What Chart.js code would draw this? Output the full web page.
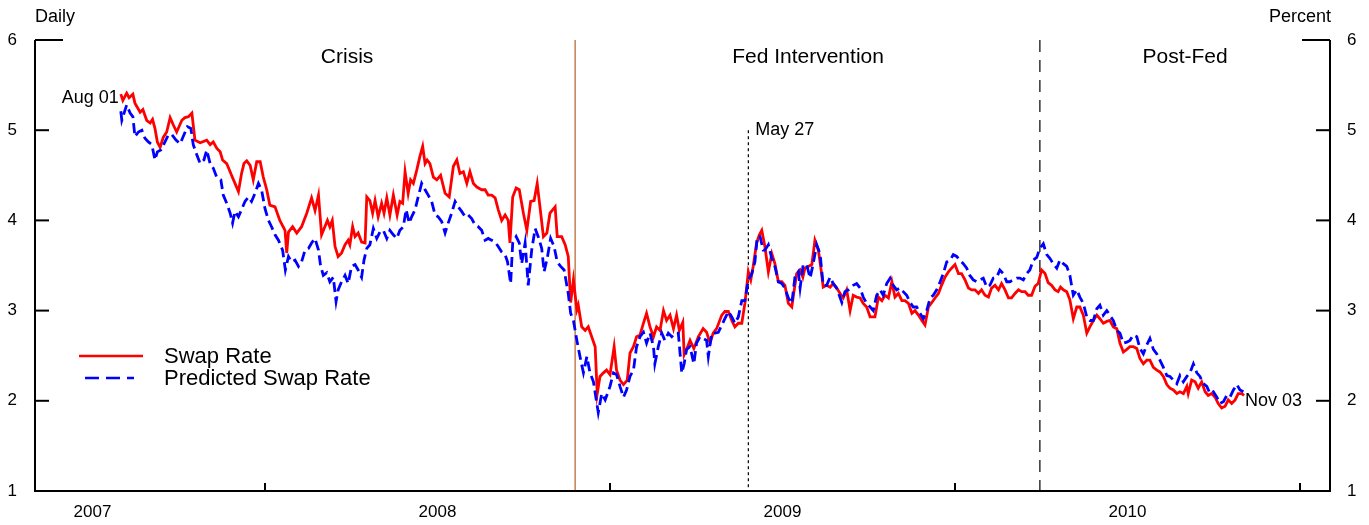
<!DOCTYPE html>
<html>
<head>
<meta charset="utf-8">
<script src="https://cdn.jsdelivr.net/npm/chart.js@4.4.0/dist/chart.umd.min.js"></script>
<style>
  html, body { margin: 0; padding: 0; background: #fff; }
</style>
</head>
<body>
<canvas id="swapChart" width="1369" height="525"></canvas>
<script>
/*
    Swap rate vs predicted swap rate, daily, 2007-2010
    x values are decimal years
*/
var years = [2007, 2008, 2009, 2010];
var yearBreaks = [2008, 2009, 2010, 2011];
var rateTicks = [1, 2, 3, 4, 5, 6];

var fedStart = 2008.899;   // Nov 25 2008
var may27 = 2009.401;      // May 27 2009
var fedEnd = 2010.246;     // Mar 31 2010

var periods = ["Crisis", "Fed Intervention", "Post-Fed"];
var periodCenters = [2008.238, 2009.574, 2010.667];

var swapRate = [[2007.582,5.40],[2007.588,5.33],[2007.599,5.41],[2007.606,5.36],[2007.617,5.40],[2007.623,5.30],[2007.638,5.20],[2007.646,5.23],[2007.657,5.11],[2007.667,5.08],[2007.674,5.12],[2007.681,5.02],[2007.688,4.87],[2007.696,4.81],[2007.705,4.92],[2007.715,4.98],[2007.725,5.14],[2007.734,5.06],[2007.744,4.98],[2007.759,5.11],[2007.768,5.14],[2007.778,5.15],[2007.788,5.19],[2007.797,4.89],[2007.812,4.86],[2007.831,4.89],[2007.841,4.84],[2007.850,4.87],[2007.860,4.80],[2007.870,4.76],[2007.877,4.67],[2007.889,4.63],[2007.903,4.50],[2007.913,4.41],[2007.923,4.32],[2007.932,4.52],[2007.939,4.63],[2007.947,4.66],[2007.957,4.61],[2007.966,4.45],[2007.976,4.65],[2007.986,4.65],[2007.995,4.48],[2008.005,4.34],[2008.014,4.17],[2008.029,4.15],[2008.043,4.00],[2008.058,3.89],[2008.063,3.64],[2008.068,3.87],[2008.080,3.93],[2008.092,3.86],[2008.106,3.93],[2008.121,4.08],[2008.135,4.25],[2008.145,4.11],[2008.155,4.28],[2008.164,3.84],[2008.181,4.00],[2008.188,3.93],[2008.195,4.00],[2008.203,3.71],[2008.212,3.60],[2008.222,3.64],[2008.232,3.73],[2008.241,3.78],[2008.246,3.73],[2008.254,3.93],[2008.261,3.82],[2008.270,3.86],[2008.280,3.76],[2008.290,3.75],[2008.295,4.26],[2008.304,4.22],[2008.312,4.08],[2008.319,4.22],[2008.328,4.04],[2008.338,4.19],[2008.345,4.08],[2008.353,4.25],[2008.362,4.06],[2008.372,4.28],[2008.383,4.06],[2008.391,4.21],[2008.399,4.19],[2008.406,4.54],[2008.415,4.30],[2008.422,4.45],[2008.430,4.41],[2008.440,4.56],[2008.449,4.71],[2008.457,4.82],[2008.464,4.63],[2008.470,4.67],[2008.478,4.63],[2008.488,4.48],[2008.498,4.45],[2008.509,4.50],[2008.522,4.30],[2008.534,4.26],[2008.546,4.60],[2008.556,4.67],[2008.565,4.52],[2008.575,4.54],[2008.585,4.41],[2008.594,4.54],[2008.604,4.41],[2008.614,4.37],[2008.628,4.34],[2008.638,4.34],[2008.647,4.28],[2008.657,4.28],[2008.667,4.25],[2008.676,4.12],[2008.686,4.00],[2008.696,4.06],[2008.705,4.00],[2008.710,3.75],[2008.718,4.26],[2008.728,4.36],[2008.737,4.34],[2008.749,4.08],[2008.759,3.89],[2008.770,4.21],[2008.780,4.22],[2008.789,4.41],[2008.797,4.15],[2008.807,3.82],[2008.817,3.86],[2008.826,4.08],[2008.841,4.15],[2008.847,3.82],[2008.860,3.82],[2008.870,3.73],[2008.879,3.60],[2008.886,3.09],[2008.894,3.34],[2008.904,3.01],[2008.908,3.06],[2008.918,2.82],[2008.928,2.78],[2008.937,2.82],[2008.947,2.71],[2008.957,2.60],[2008.963,2.08],[2008.971,2.27],[2008.981,2.31],[2008.990,2.34],[2009.000,2.29],[2009.012,2.60],[2009.019,2.34],[2009.029,2.23],[2009.039,2.18],[2009.050,2.23],[2009.058,2.53],[2009.068,2.60],[2009.077,2.71],[2009.087,2.73],[2009.097,2.86],[2009.106,2.97],[2009.116,2.82],[2009.126,2.71],[2009.135,2.82],[2009.145,2.78],[2009.155,3.00],[2009.164,2.89],[2009.174,2.95],[2009.184,2.80],[2009.193,2.95],[2009.201,2.78],[2009.211,2.87],[2009.215,2.51],[2009.222,2.57],[2009.232,2.67],[2009.243,2.58],[2009.256,2.71],[2009.270,2.80],[2009.280,2.76],[2009.290,2.64],[2009.299,2.75],[2009.309,2.80],[2009.324,2.95],[2009.333,2.99],[2009.343,2.99],[2009.353,2.89],[2009.362,2.82],[2009.372,2.86],[2009.382,2.86],[2009.391,3.08],[2009.401,3.43],[2009.408,3.34],[2009.415,3.49],[2009.425,3.75],[2009.433,3.84],[2009.440,3.89],[2009.449,3.71],[2009.459,3.43],[2009.469,3.63],[2009.478,3.52],[2009.488,3.32],[2009.498,3.32],[2009.507,3.28],[2009.517,3.08],[2009.527,3.04],[2009.531,3.15],[2009.541,3.41],[2009.551,3.45],[2009.559,3.37],[2009.565,3.47],[2009.575,3.49],[2009.585,3.51],[2009.594,3.78],[2009.604,3.67],[2009.612,3.45],[2009.618,3.26],[2009.628,3.28],[2009.638,3.26],[2009.647,3.30],[2009.657,3.25],[2009.667,3.19],[2009.676,3.14],[2009.686,3.23],[2009.696,3.00],[2009.705,3.17],[2009.715,3.15],[2009.725,3.14],[2009.734,3.08],[2009.744,3.04],[2009.754,2.93],[2009.768,2.93],[2009.778,3.15],[2009.788,3.11],[2009.797,3.17],[2009.807,3.14],[2009.817,3.32],[2009.826,3.15],[2009.836,3.19],[2009.846,3.11],[2009.855,3.11],[2009.865,3.08],[2009.875,2.97],[2009.884,3.00],[2009.894,2.95],[2009.904,2.89],[2009.913,2.84],[2009.923,3.04],[2009.933,3.09],[2009.942,3.14],[2009.952,3.19],[2009.961,3.28],[2009.971,3.37],[2009.981,3.43],[2009.990,3.47],[2010.000,3.51],[2010.010,3.41],[2010.019,3.41],[2010.029,3.34],[2010.039,3.25],[2010.048,3.23],[2010.058,3.23],[2010.068,3.19],[2010.077,3.23],[2010.087,3.17],[2010.097,3.15],[2010.106,3.25],[2010.116,3.28],[2010.126,3.23],[2010.135,3.30],[2010.145,3.23],[2010.155,3.14],[2010.164,3.14],[2010.174,3.19],[2010.184,3.23],[2010.193,3.21],[2010.203,3.21],[2010.212,3.17],[2010.222,3.17],[2010.232,3.27],[2010.241,3.30],[2010.251,3.45],[2010.261,3.41],[2010.270,3.31],[2010.280,3.28],[2010.290,3.23],[2010.299,3.21],[2010.306,3.26],[2010.314,3.23],[2010.324,3.21],[2010.333,3.12],[2010.343,2.91],[2010.353,3.04],[2010.362,3.04],[2010.372,2.95],[2010.382,2.75],[2010.391,2.82],[2010.401,2.89],[2010.411,2.95],[2010.420,2.91],[2010.430,2.86],[2010.440,2.88],[2010.449,2.89],[2010.459,2.82],[2010.469,2.80],[2010.478,2.64],[2010.488,2.54],[2010.498,2.57],[2010.507,2.60],[2010.517,2.60],[2010.527,2.58],[2010.536,2.47],[2010.546,2.41],[2010.556,2.45],[2010.565,2.45],[2010.575,2.37],[2010.585,2.34],[2010.594,2.32],[2010.604,2.27],[2010.614,2.18],[2010.623,2.14],[2010.633,2.12],[2010.643,2.08],[2010.652,2.10],[2010.662,2.08],[2010.672,2.16],[2010.676,2.08],[2010.686,2.23],[2010.696,2.21],[2010.705,2.14],[2010.715,2.21],[2010.725,2.10],[2010.734,2.06],[2010.744,2.08],[2010.754,2.04],[2010.763,1.97],[2010.773,1.92],[2010.783,1.94],[2010.792,2.01],[2010.802,1.97],[2010.812,2.01],[2010.821,2.08],[2010.831,2.08],[2010.838,2.06]];

var predictedRate = [[2007.582,5.21],[2007.585,5.11],[2007.599,5.28],[2007.609,5.19],[2007.617,5.15],[2007.623,4.93],[2007.633,4.98],[2007.643,5.00],[2007.652,4.91],[2007.662,4.87],[2007.672,4.84],[2007.681,4.67],[2007.688,4.76],[2007.698,4.78],[2007.710,4.87],[2007.720,4.95],[2007.730,4.95],[2007.742,4.89],[2007.754,4.85],[2007.763,4.93],[2007.775,5.04],[2007.785,5.02],[2007.792,4.84],[2007.802,4.73],[2007.812,4.63],[2007.823,4.67],[2007.831,4.78],[2007.841,4.63],[2007.850,4.58],[2007.860,4.48],[2007.872,4.45],[2007.879,4.28],[2007.889,4.19],[2007.899,4.08],[2007.906,3.97],[2007.913,4.10],[2007.923,4.04],[2007.932,4.12],[2007.942,4.21],[2007.952,4.26],[2007.961,4.21],[2007.971,4.30],[2007.981,4.41],[2007.990,4.34],[2008.000,4.13],[2008.010,4.00],[2008.019,3.93],[2008.029,3.84],[2008.039,3.78],[2008.051,3.67],[2008.059,3.45],[2008.068,3.60],[2008.077,3.54],[2008.087,3.56],[2008.097,3.49],[2008.106,3.54],[2008.116,3.67],[2008.126,3.69],[2008.135,3.75],[2008.145,3.80],[2008.155,3.67],[2008.161,3.50],[2008.169,3.39],[2008.179,3.42],[2008.188,3.32],[2008.198,3.37],[2008.206,3.10],[2008.212,3.23],[2008.222,3.32],[2008.232,3.39],[2008.241,3.30],[2008.251,3.49],[2008.261,3.51],[2008.270,3.45],[2008.280,3.37],[2008.287,3.56],[2008.295,3.69],[2008.304,3.73],[2008.314,3.91],[2008.324,3.80],[2008.333,3.87],[2008.343,3.89],[2008.353,3.80],[2008.362,3.89],[2008.372,3.84],[2008.382,3.80],[2008.391,3.89],[2008.401,3.93],[2008.409,4.12],[2008.418,3.97],[2008.425,4.04],[2008.435,4.12],[2008.444,4.26],[2008.454,4.41],[2008.464,4.34],[2008.473,4.28],[2008.483,4.21],[2008.493,4.06],[2008.502,4.04],[2008.512,3.99],[2008.522,3.86],[2008.531,3.97],[2008.541,4.08],[2008.551,4.21],[2008.560,4.15],[2008.570,4.10],[2008.580,4.04],[2008.589,4.06],[2008.599,4.02],[2008.609,3.95],[2008.618,3.93],[2008.628,3.89],[2008.638,3.78],[2008.647,3.80],[2008.657,3.78],[2008.667,3.76],[2008.676,3.71],[2008.686,3.65],[2008.696,3.62],[2008.703,3.54],[2008.712,3.30],[2008.718,3.75],[2008.728,3.82],[2008.737,3.75],[2008.744,3.52],[2008.754,3.75],[2008.763,3.28],[2008.773,3.67],[2008.783,3.91],[2008.792,3.82],[2008.802,3.69],[2008.809,3.43],[2008.818,3.58],[2008.828,3.80],[2008.838,3.71],[2008.847,3.54],[2008.857,3.49],[2008.867,3.45],[2008.879,3.19],[2008.886,2.97],[2008.894,2.89],[2008.904,2.67],[2008.913,2.49],[2008.923,2.31],[2008.933,2.49],[2008.942,2.31],[2008.952,2.21],[2008.959,2.04],[2008.966,1.87],[2008.976,2.08],[2008.986,2.01],[2009.000,2.16],[2009.010,2.31],[2009.019,2.29],[2009.029,2.16],[2009.039,2.04],[2009.048,2.12],[2009.058,2.27],[2009.068,2.34],[2009.077,2.60],[2009.087,2.71],[2009.097,2.76],[2009.106,2.64],[2009.116,2.75],[2009.126,2.60],[2009.130,2.41],[2009.140,2.60],[2009.150,2.75],[2009.159,2.67],[2009.169,2.75],[2009.179,2.71],[2009.188,2.75],[2009.198,2.75],[2009.208,2.31],[2009.215,2.41],[2009.222,2.57],[2009.232,2.60],[2009.243,2.41],[2009.251,2.64],[2009.261,2.71],[2009.270,2.69],[2009.280,2.67],[2009.285,2.49],[2009.295,2.75],[2009.304,2.75],[2009.314,2.76],[2009.324,2.84],[2009.333,2.91],[2009.343,2.99],[2009.353,2.93],[2009.362,2.86],[2009.372,2.93],[2009.382,3.11],[2009.391,3.11],[2009.401,3.34],[2009.411,3.41],[2009.420,3.54],[2009.427,3.82],[2009.435,3.82],[2009.444,3.67],[2009.449,3.67],[2009.459,3.73],[2009.469,3.58],[2009.478,3.49],[2009.488,3.32],[2009.498,3.30],[2009.507,3.25],[2009.517,3.14],[2009.527,3.08],[2009.536,3.37],[2009.546,3.43],[2009.551,3.25],[2009.560,3.51],[2009.570,3.51],[2009.580,3.36],[2009.589,3.52],[2009.599,3.73],[2009.609,3.63],[2009.618,3.28],[2009.628,3.28],[2009.638,3.37],[2009.647,3.30],[2009.657,3.25],[2009.672,3.09],[2009.681,3.21],[2009.691,3.23],[2009.705,3.28],[2009.715,3.30],[2009.725,3.25],[2009.734,3.15],[2009.744,3.08],[2009.754,3.04],[2009.763,3.00],[2009.773,3.17],[2009.783,3.23],[2009.792,3.17],[2009.802,3.30],[2009.812,3.36],[2009.821,3.28],[2009.831,3.23],[2009.841,3.25],[2009.850,3.21],[2009.860,3.17],[2009.870,3.09],[2009.879,3.04],[2009.889,3.04],[2009.899,2.97],[2009.908,2.91],[2009.918,3.00],[2009.928,3.14],[2009.937,3.17],[2009.947,3.23],[2009.957,3.32],[2009.966,3.41],[2009.976,3.54],[2009.986,3.56],[2009.995,3.62],[2010.005,3.60],[2010.014,3.56],[2010.024,3.52],[2010.034,3.47],[2010.043,3.39],[2010.053,3.34],[2010.063,3.32],[2010.072,3.34],[2010.082,3.36],[2010.092,3.26],[2010.101,3.28],[2010.111,3.36],[2010.121,3.37],[2010.130,3.45],[2010.140,3.41],[2010.150,3.32],[2010.159,3.32],[2010.169,3.34],[2010.179,3.36],[2010.188,3.36],[2010.198,3.34],[2010.208,3.41],[2010.217,3.45],[2010.227,3.56],[2010.237,3.59],[2010.246,3.69],[2010.256,3.74],[2010.266,3.62],[2010.275,3.58],[2010.285,3.52],[2010.295,3.47],[2010.304,3.56],[2010.314,3.52],[2010.324,3.49],[2010.333,3.39],[2010.343,3.17],[2010.353,3.23],[2010.362,3.15],[2010.372,3.08],[2010.382,2.93],[2010.391,2.89],[2010.401,2.89],[2010.411,3.02],[2010.420,3.06],[2010.430,2.95],[2010.440,3.00],[2010.449,2.95],[2010.459,2.89],[2010.469,2.78],[2010.478,2.75],[2010.488,2.64],[2010.498,2.65],[2010.507,2.67],[2010.517,2.73],[2010.527,2.71],[2010.536,2.58],[2010.546,2.52],[2010.556,2.62],[2010.565,2.69],[2010.575,2.57],[2010.585,2.52],[2010.594,2.45],[2010.604,2.37],[2010.614,2.28],[2010.623,2.27],[2010.633,2.23],[2010.643,2.19],[2010.652,2.28],[2010.662,2.21],[2010.672,2.27],[2010.681,2.31],[2010.691,2.41],[2010.701,2.31],[2010.710,2.27],[2010.720,2.19],[2010.730,2.16],[2010.739,2.08],[2010.749,2.10],[2010.759,2.04],[2010.768,1.97],[2010.778,1.99],[2010.788,2.06],[2010.797,2.04],[2010.807,2.12],[2010.817,2.18],[2010.826,2.12],[2010.836,2.10]];

var FONT = '"Liberation Sans", Arial, Helvetica, sans-serif';
Chart.defaults.font.family = FONT;
Chart.defaults.color = '#000';

function seg(ctx, x1, y1, x2, y2) {
    ctx.beginPath();
    ctx.moveTo(x1, y1);
    ctx.lineTo(x2, y2);
    ctx.stroke();
}

/*
    Extra drawing: event lines, axis frame with inside ticks, notes, legend
*/
var decor = {
    id: 'decor',
    beforeDatasetsDraw: function(chart) {
        var ctx = chart.ctx, a = chart.chartArea;
        var xs = chart.scales.x, ys = chart.scales.y;
        ctx.save();
        // start of Fed purchases
        ctx.strokeStyle = '#C4804F';
        ctx.lineWidth = 1.5;
        var px = xs.getPixelForValue(fedStart);
        seg(ctx, px, a.top, px, a.bottom);
        // May 27
        ctx.strokeStyle = '#000';
        ctx.lineWidth = 1.2;
        ctx.setLineDash([3, 3]);
        px = xs.getPixelForValue(may27);
        seg(ctx, px, ys.getPixelForValue(5), px, a.bottom);
        // end of purchases
        ctx.strokeStyle = '#333';
        ctx.lineWidth = 1.5;
        ctx.setLineDash([12, 8]);
        px = xs.getPixelForValue(fedEnd);
        seg(ctx, px, a.top, px, a.bottom);
        ctx.restore();
    },
    afterDatasetsDraw: function(chart) {
        var ctx = chart.ctx, a = chart.chartArea;
        var xs = chart.scales.x, ys = chart.scales.y;
        ctx.save();
        ctx.strokeStyle = '#000';
        ctx.lineWidth = 2;
        seg(ctx, a.left, a.top, a.left, a.bottom + 1);
        seg(ctx, a.right, a.top, a.right, a.bottom + 1);
        seg(ctx, a.left, a.bottom, a.right, a.bottom);
        rateTicks.forEach(function(v) {
            if (v === 1) return;
            var py = ys.getPixelForValue(v);
            var len = v === 6 ? 28 : 14;
            seg(ctx, a.left, py, a.left + len, py);
            seg(ctx, a.right, py, a.right - len, py);
        });
        yearBreaks.forEach(function(yr) {
            var px = xs.getPixelForValue(yr);
            seg(ctx, px, a.bottom, px, a.bottom - 8);
        });

        ctx.fillStyle = '#000';
        ctx.textBaseline = 'middle';
        ctx.font = '18px ' + FONT;
        ctx.textAlign = 'left';
        ctx.fillText('Daily', a.left, 17);
        ctx.textAlign = 'right';
        ctx.fillText('Percent', a.right + 1, 17);

        ctx.font = '21px ' + FONT;
        ctx.textAlign = 'center';
        periods.forEach(function(p, i) {
            ctx.fillText(p, xs.getPixelForValue(periodCenters[i]), ys.getPixelForValue(5.81));
        });

        ctx.font = '18px ' + FONT;
        var first = swapRate[0], last = swapRate[swapRate.length - 1];
        ctx.textAlign = 'right';
        ctx.fillText('Aug 01', xs.getPixelForValue(first[0]) - 2, ys.getPixelForValue(5.36));
        ctx.textAlign = 'left';
        ctx.fillText('May 27', xs.getPixelForValue(may27) + 7, ys.getPixelForValue(5.0));
        ctx.fillText('Nov 03', xs.getPixelForValue(last[0]) + 1, ys.getPixelForValue(2.0));

        // legend
        ctx.lineWidth = 2.5;
        ctx.strokeStyle = '#FF0000';
        seg(ctx, 79, 356, 143, 356);
        ctx.strokeStyle = '#0000FF';
        ctx.setLineDash([14, 7]);
        seg(ctx, 85, 378, 134, 378);
        ctx.setLineDash([]);
        ctx.font = '22px ' + FONT;
        ctx.fillText('Swap Rate', 164, 357);
        ctx.fillText('Predicted Swap Rate', 164, 379);
        ctx.restore();
    }
};

var rateAxis = function(pos, width, pad) {
    return {
        position: pos,
        min: 1,
        max: 6,
        grid: { display: false, drawTicks: false },
        border: { display: false },
        ticks: { stepSize: 1, padding: pad, color: '#000', font: { size: 17 } },
        afterFit: function(s) { s.width = width; }
    };
};

var ctxS = document.getElementById('swapChart').getContext('2d');
var swapChart = new Chart(ctxS, {
    type: 'line',
    data: {
        datasets: [{
            label: 'Predicted Swap Rate',
            data: predictedRate.map(function(p) { return { x: p[0], y: p[1] }; }),
            borderColor: '#0000FF',
            borderWidth: 2.8,
            borderDash: [10, 5],
            pointRadius: 0,
            tension: 0,
            fill: false,
            yAxisID: 'y'
        }, {
            label: 'Swap Rate',
            data: swapRate.map(function(p) { return { x: p[0], y: p[1] }; }),
            borderColor: '#FF0000',
            borderWidth: 2.8,
            pointRadius: 0,
            tension: 0,
            fill: false,
            yAxisID: 'y'
        }]
    },
    options: {
        responsive: false,
        animation: false,
        layout: { padding: { top: 40, left: 0, right: 0, bottom: 0 } },
        plugins: {
            legend: { display: false },
            tooltip: { enabled: false }
        },
        scales: {
            x: {
                type: 'linear',
                min: 2007.3333,
                max: 2011.087,
                grid: { display: false, drawTicks: false },
                border: { display: false },
                afterBuildTicks: function(s) {
                    s.ticks = years.map(function(y) { return { value: y + 0.5 }; });
                },
                afterFit: function(s) { s.height = 34; },
                ticks: {
                    autoSkip: false,
                    maxRotation: 0,
                    padding: 11,
                    color: '#000',
                    font: { size: 17 },
                    callback: function(v) { return String(Math.floor(v)); }
                }
            },
            y: rateAxis('left', 35, 18),
            y2: rateAxis('right', 39, 17)
        }
    },
    plugins: [decor]
});
</script>
</body>
</html>
